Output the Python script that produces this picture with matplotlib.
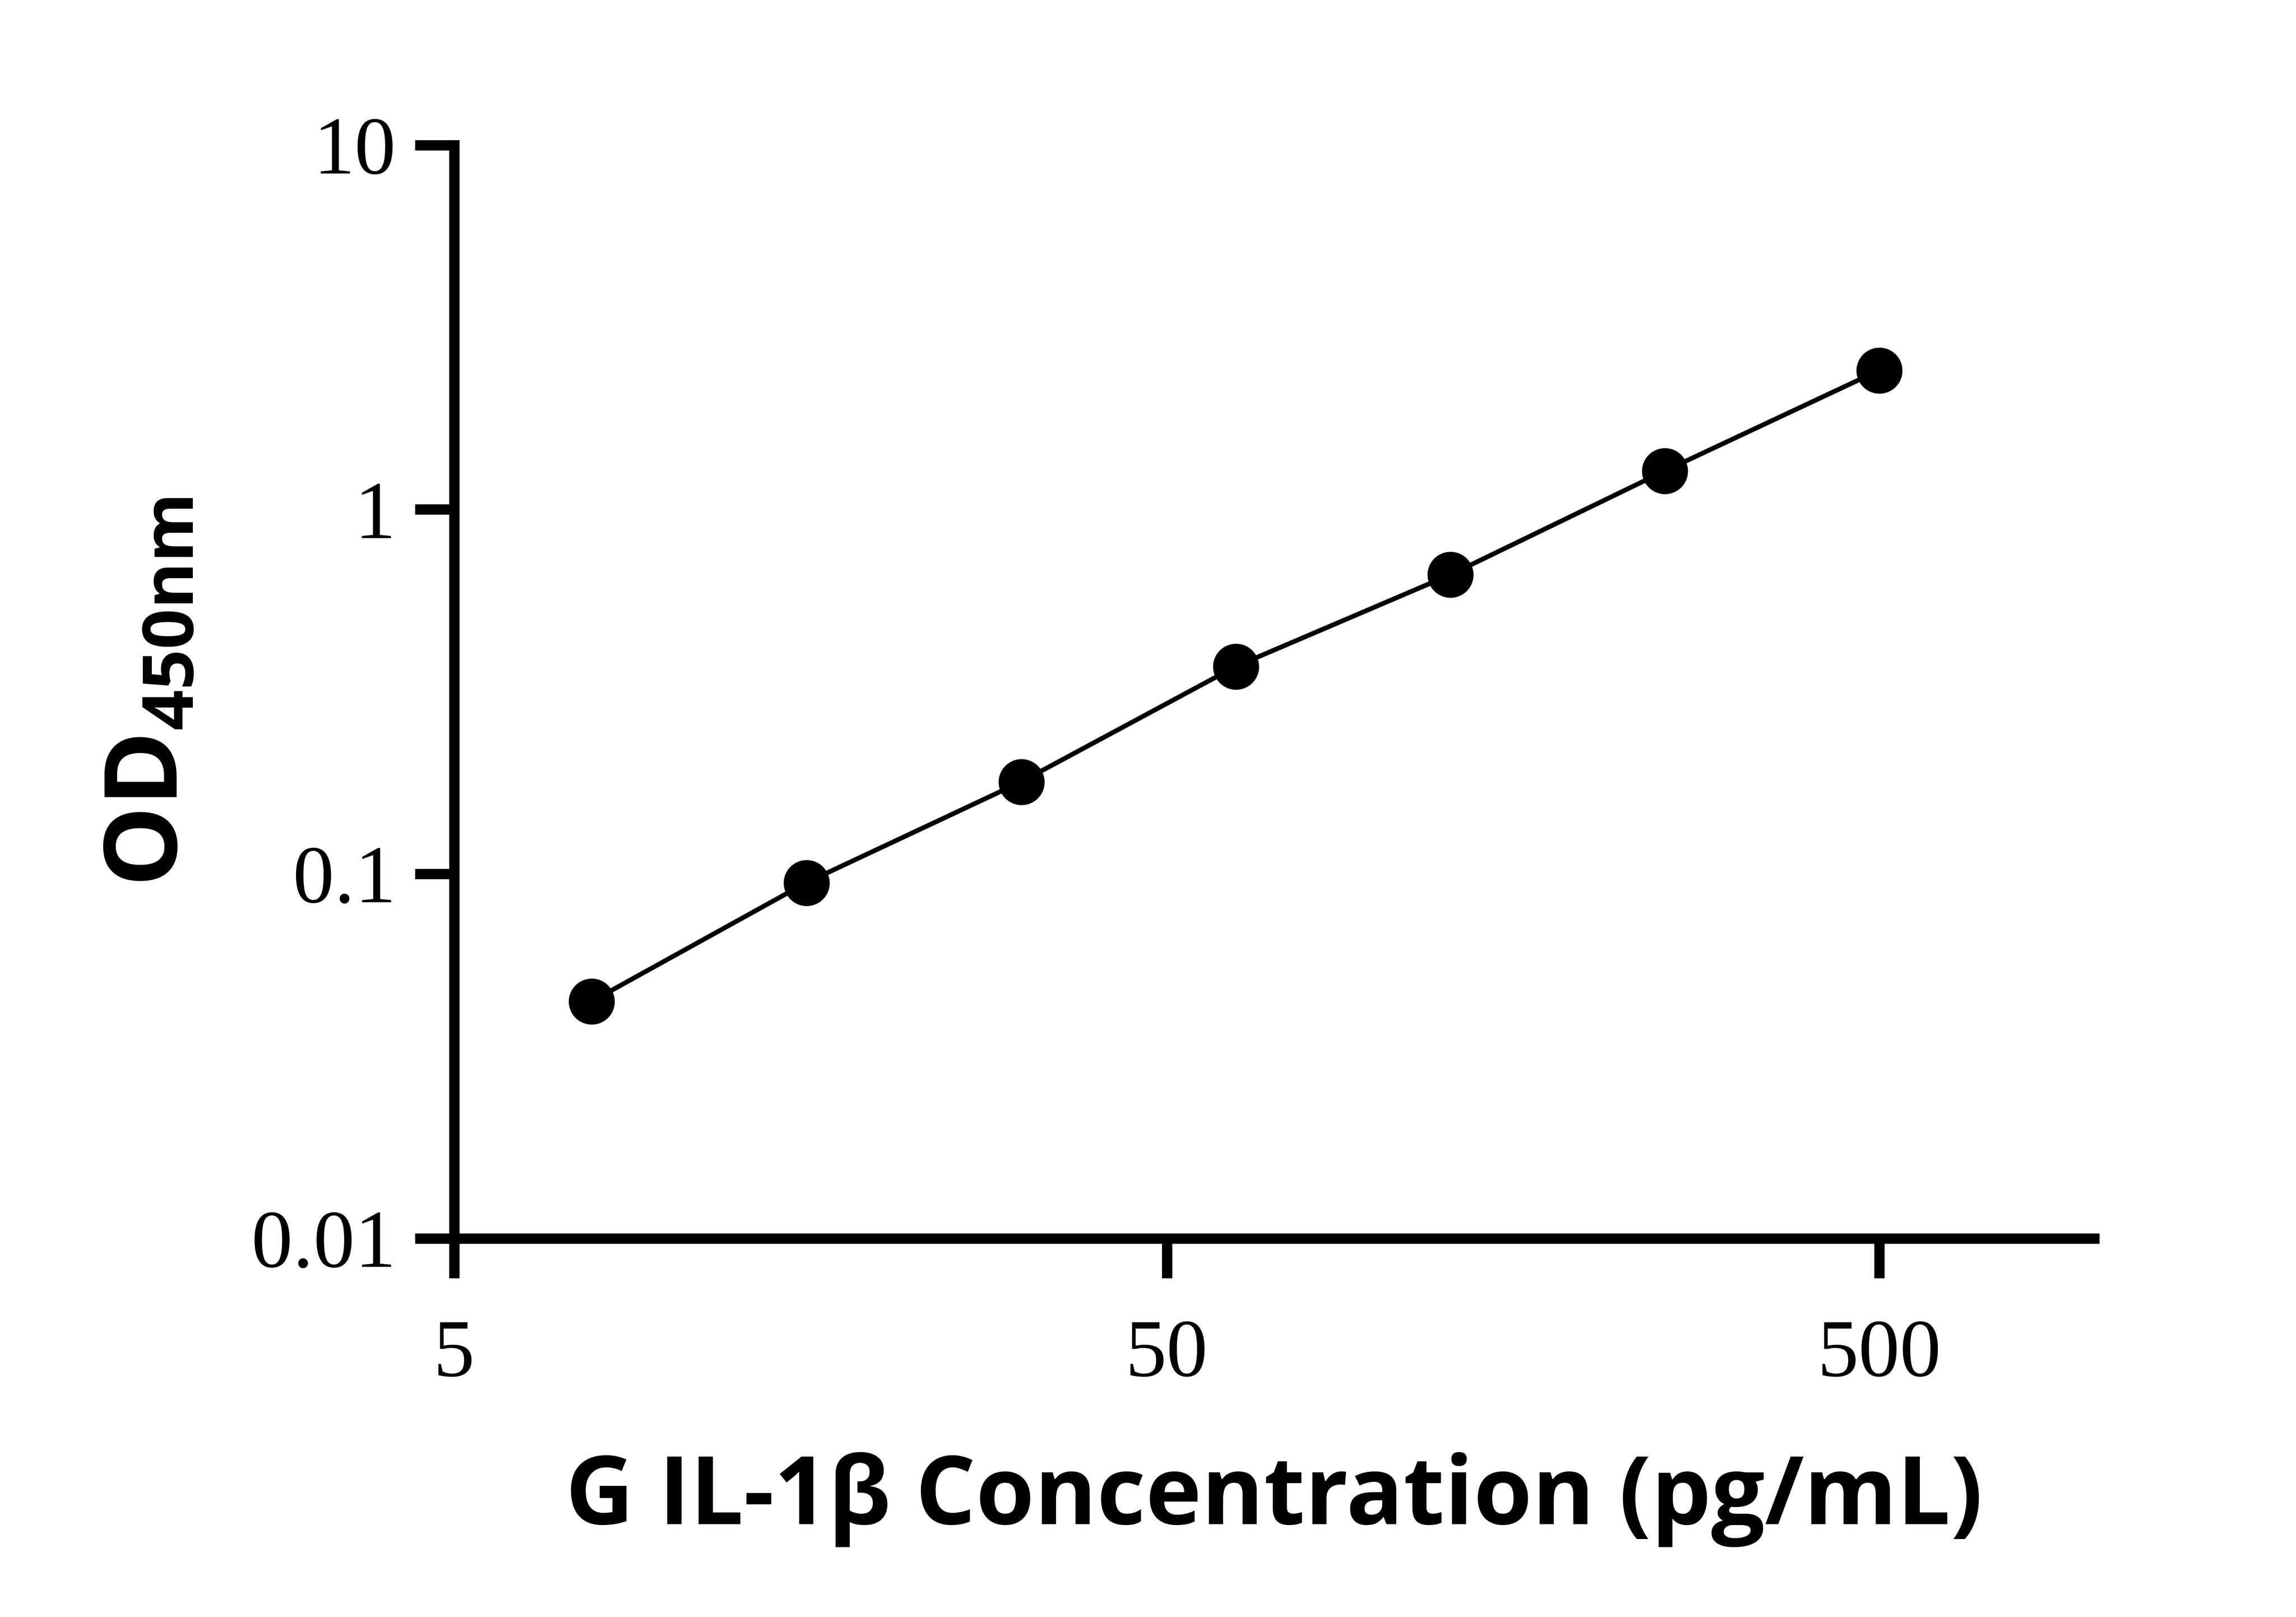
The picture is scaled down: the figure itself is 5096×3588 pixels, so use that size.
import matplotlib
matplotlib.use("Agg")
import matplotlib.pyplot as plt
from matplotlib import font_manager as fm
from matplotlib.ticker import FixedLocator, FixedFormatter, NullLocator

conc = [7.8, 15.6, 31.25, 62.5, 125, 250, 500]
od = [0.0447, 0.0946, 0.179, 0.371, 0.662, 1.276, 2.41]
xticks = [5, 50, 500]
xticklabels = ["5", "50", "500"]
yticks = [0.01, 0.1, 1, 10]
yticklabels = ["0.01", "0.1", "1", "10"]

# find a static bold sans font
pref = ['Noto Sans', 'Open Sans', 'Roboto', 'Lato', 'Liberation Sans', 'DejaVu Sans']
bold_family = 'DejaVu Sans'
bold_path = None
for fam in pref:
    cands = [f for f in fm.fontManager.ttflist
             if f.name == fam and f.style == 'normal'
             and (f.weight == 'bold' or (isinstance(f.weight, int) and f.weight == 700))
             and '[' not in f.fname]
    if cands:
        bold_family = fam
        bold_path = cands[0].fname
        break

plt.rcParams['mathtext.fontset'] = 'custom'
plt.rcParams['mathtext.rm'] = bold_family
plt.rcParams['mathtext.bf'] = bold_family + ':bold'

if bold_path:
    lab_fp = fm.FontProperties(fname=bold_path, size=50.5)
else:
    lab_fp = fm.FontProperties(family=bold_family, weight='bold', size=50.5)

fig = plt.figure(figsize=(5096/300, 3588/300), dpi=300)
ax = fig.add_axes([0.1978, 0.2342, 0.7142, 0.6761])

ax.plot(conc, od, color='black', lw=2.5, zorder=2)
ax.plot(conc, od, 'o', color='black', ms=23.5, zorder=3)

ax.set_xscale('log')
ax.set_yscale('log')
ax.set_xlim(5, 1000)
ax.set_ylim(0.01, 10)

ax.xaxis.set_major_locator(FixedLocator(xticks))
ax.xaxis.set_major_formatter(FixedFormatter(xticklabels))
ax.xaxis.set_minor_locator(NullLocator())
ax.yaxis.set_major_locator(FixedLocator(yticks))
ax.yaxis.set_major_formatter(FixedFormatter(yticklabels))
ax.yaxis.set_minor_locator(NullLocator())

for s in ['top', 'right']:
    ax.spines[s].set_visible(False)
for s in ['left', 'bottom']:
    ax.spines[s].set_linewidth(5.5)
    ax.spines[s].set_capstyle('projecting')

ax.tick_params(axis='both', which='major', direction='out', length=21, width=5.5, labelsize=44)
ax.tick_params(axis='x', pad=22)
ax.tick_params(axis='y', pad=10)
for lab in ax.get_xticklabels() + ax.get_yticklabels():
    lab.set_fontfamily('Liberation Serif')

ax.set_xlabel("G IL-1β Concentration (pg/mL)", fontproperties=lab_fp, labelpad=31)
ax.set_ylabel(r"$\mathbf{OD_{450nm}}$", fontsize=54, labelpad=28)

fig.savefig("out.png", dpi=300, facecolor='white')
